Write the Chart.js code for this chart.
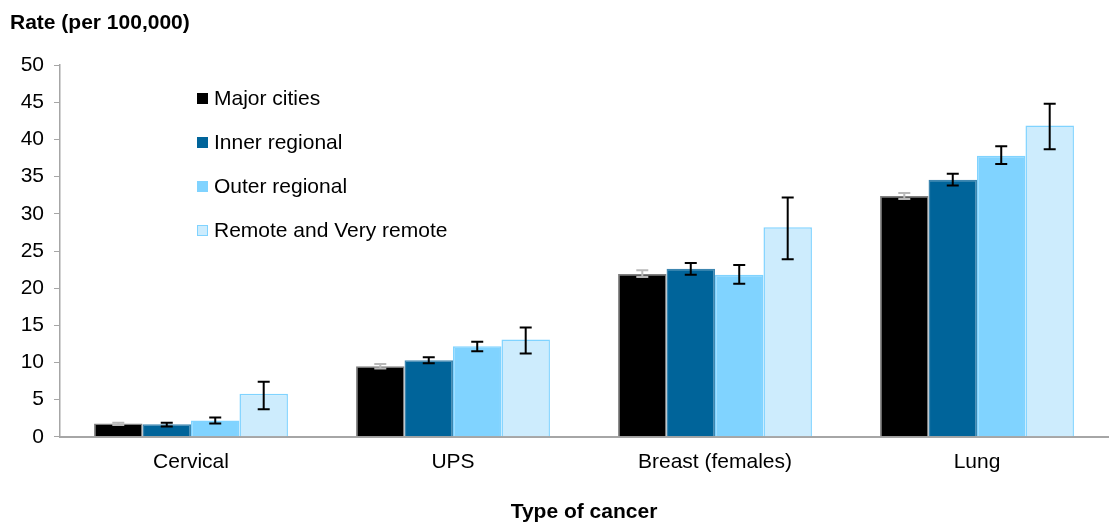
<!DOCTYPE html>
<html>
<head>
<meta charset="utf-8">
<script src="https://cdn.jsdelivr.net/npm/chart.js@4.4.0/dist/chart.umd.min.js"></script>
<style>
  html, body { margin: 0; padding: 0; background: #fff; }
  #wrap { position: relative; width: 1112px; height: 523px; }
  #legend { position: absolute; left: 197px; top: 85px; font-family: 'Liberation Sans', Arial, sans-serif; font-size: 21px; color: #000; }
  #legend div { height: 44px; line-height: 26px; display: flex; align-items: flex-start; }
  #legend span.box { display: inline-block; width: 11px; height: 11px; margin-right: 6px; margin-top: 8px; box-sizing: border-box; }
</style>
</head>
<body>
<div id="wrap">
  <canvas id="myChart"></canvas>
  <div id="legend"></div>
</div>
<script>
// categories and series
let aCancer = ['Cervical', 'UPS', 'Breast (females)', 'Lung'];
let aSeriesName = ['Major cities', 'Inner regional', 'Outer regional', 'Remote and Very remote'];

let aMajor = [1.8, 9.5, 21.9, 32.4];
let aInner = [1.7, 10.3, 22.6, 34.6];
let aOuter = [2.2, 12.2, 21.8, 37.8];
let aRemote = [5.8, 13.1, 28.2, 41.9];

// confidence intervals (low / high)
let aMajorLo = [1.6, 9.2, 21.5, 32.0];
let aMajorHi = [1.9, 9.8, 22.4, 32.8];
let aInnerLo = [1.4, 9.9, 21.8, 33.8];
let aInnerHi = [1.9, 10.7, 23.4, 35.4];
let aOuterLo = [1.8, 11.5, 20.6, 36.7];
let aOuterHi = [2.6, 12.8, 23.1, 39.1];
let aRemoteLo = [3.7, 11.2, 23.9, 38.7];
let aRemoteHi = [7.4, 14.7, 32.2, 44.8];

let aFill = ['#000000', '#00649a', '#80d3ff', '#cdecfd'];
let aBorder = ['#7f7f7f', '#3d86b0', '#80d3ff', '#80d3ff'];
let aErrColor = ['#b8b8b8', '#000000', '#000000', '#000000'];

const seriesValues = [aMajor, aInner, aOuter, aRemote];
const seriesLo = [aMajorLo, aInnerLo, aOuterLo, aRemoteLo];
const seriesHi = [aMajorHi, aInnerHi, aOuterHi, aRemoteHi];

const fontFamily = "'Liberation Sans', Arial, sans-serif";

// Error bars drawn through the y scale
const errorBars = {
    id: 'errorBars',
    afterDatasetsDraw(chart) {
        const ctx = chart.ctx;
        const yScale = chart.scales.y;
        chart.data.datasets.forEach((ds, i) => {
            const meta = chart.getDatasetMeta(i);
            meta.data.forEach((bar, j) => {
                const yLo = yScale.getPixelForValue(seriesLo[i][j]);
                const yHi = yScale.getPixelForValue(seriesHi[i][j]);
                const x = bar.x;
                ctx.save();
                ctx.strokeStyle = aErrColor[i];
                ctx.lineWidth = 2;
                ctx.beginPath();
                ctx.moveTo(x, yLo); ctx.lineTo(x, yHi);
                ctx.moveTo(x - 6, yLo); ctx.lineTo(x + 6, yLo);
                ctx.moveTo(x - 6, yHi); ctx.lineTo(x + 6, yHi);
                ctx.stroke();
                ctx.restore();
            });
        });
    }
};

const datasets = aSeriesName.map((name, i) => ({
    label: name,
    data: seriesValues[i],
    backgroundColor: aFill[i],
    borderColor: aBorder[i],
    borderWidth: 1.5,
    categoryPercentage: 0.74,
    barPercentage: 1.0
}));

const ctx = document.getElementById('myChart').getContext('2d');
const myChart = new Chart(ctx, {
    type: 'bar',
    data: { labels: aCancer, datasets: datasets },
    options: {
        responsive: true,
        maintainAspectRatio: false,
        animation: false,
        layout: { padding: { left: 10, right: 4, top: 11, bottom: 0 } },
        scales: {
            x: {
                grid: { display: false, drawTicks: false },
                border: { color: '#a6a6a6', width: 2 },
                ticks: { color: '#000', font: { family: fontFamily, size: 21 }, padding: 13 },
                title: {
                    display: true,
                    text: 'Type of cancer',
                    color: '#000',
                    font: { family: fontFamily, size: 21, weight: 'bold', lineHeight: 1 },
                    padding: { top: 14, bottom: 0 }
                }
            },
            y: {
                min: 0,
                max: 50,
                afterFit(scale) { scale.width = 50; },
                grid: { drawOnChartArea: false, tickLength: 6, color: '#a6a6a6' },
                border: { color: '#a6a6a6', width: 1.5 },
                ticks: { stepSize: 5, color: '#000', font: { family: fontFamily, size: 21 }, padding: 10 }
            }
        },
        plugins: {
            legend: { display: false },
            tooltip: { enabled: false },
            title: {
                display: true,
                text: 'Rate (per 100,000)',
                align: 'start',
                color: '#000',
                font: { family: fontFamily, size: 21, weight: 'bold' },
                padding: { top: 0, bottom: 29 }
            }
        }
    },
    plugins: [errorBars]
});

// HTML legend built from the series arrays
const legendEl = document.getElementById('legend');
aSeriesName.forEach((name, i) => {
    const row = document.createElement('div');
    const box = document.createElement('span');
    box.className = 'box';
    box.style.background = aFill[i];
    if (i === 3) box.style.border = '1.5px solid ' + aBorder[i];
    row.appendChild(box);
    row.appendChild(document.createTextNode(name));
    legendEl.appendChild(row);
});
</script>
</body>
</html>
